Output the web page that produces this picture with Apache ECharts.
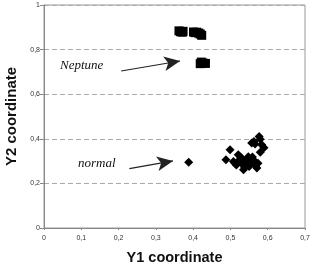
<!DOCTYPE html>
<html>
<head>
<meta charset="utf-8">
<script src="https://cdn.jsdelivr.net/npm/echarts@6/dist/echarts.min.js"></script>
<style>
  html, body { margin: 0; padding: 0; background: #fff; }
  #chart { width: 311px; height: 267px; }
</style>
</head>
<body>
<div id="chart"></div>
<script>
// Neptune group (squares)
const neptune = [
  [0.362, 0.884], [0.366, 0.880], [0.371, 0.878], [0.373, 0.882],
  [0.401, 0.879], [0.405, 0.876], [0.410, 0.878], [0.415, 0.874],
  [0.419, 0.870], [0.423, 0.864],
  [0.419, 0.737], [0.422, 0.744], [0.426, 0.740], [0.433, 0.738]
];

// normal group (diamonds)
const normal = [
  [0.388, 0.295],
  [0.488, 0.306], [0.499, 0.351], [0.508, 0.298], [0.512, 0.290],
  [0.516, 0.283], [0.521, 0.328], [0.524, 0.305], [0.527, 0.318],
  [0.530, 0.313], [0.532, 0.295], [0.534, 0.283], [0.535, 0.261],
  [0.538, 0.272], [0.540, 0.300], [0.544, 0.306], [0.546, 0.290],
  [0.548, 0.320], [0.550, 0.276], [0.553, 0.283], [0.556, 0.300],
  [0.559, 0.318], [0.562, 0.290], [0.566, 0.298], [0.568, 0.280],
  [0.571, 0.269], [0.574, 0.290],
  [0.557, 0.381], [0.563, 0.388], [0.566, 0.377], [0.577, 0.410],
  [0.580, 0.398], [0.584, 0.373], [0.580, 0.340], [0.590, 0.360]
];

// annotation arrows, in data coordinates
const neptuneArrow = [[0.207, 0.704], [0.365, 0.749]];
const normalArrow = [[0.229, 0.266], [0.346, 0.301]];

const chart = echarts.init(document.getElementById('chart'));

const fmt = v => String(Math.round(v * 10) / 10).replace('.', ',');

const arrowLine = (pts) => ({
  silent: true,
  symbol: ['none', 'arrow'],
  symbolSize: [11, 16],
  lineStyle: { color: '#222', width: 1.2, type: 'solid' },
  label: { show: false },
  data: [[{ coord: pts[0] }, { coord: pts[1] }]]
});

const option = {
  animation: false,
  grid: {
    left: 44, right: 6, top: 5, bottom: 39,
    outerBoundsMode: 'none',
    show: true, borderColor: '#999', borderWidth: 1
  },
  xAxis: {
    type: 'value',
    min: 0, max: 0.7, interval: 0.1,
    name: 'Y1 coordinate',
    nameLocation: 'middle',
    nameGap: 22,
    nameTextStyle: { fontFamily: 'Liberation Sans', fontWeight: 'bold', fontSize: 14.5, color: '#111' },
    axisLine: { lineStyle: { color: '#888' } },
    axisTick: { show: true, length: 2, lineStyle: { color: '#888' } },
    axisLabel: { fontFamily: 'Liberation Sans', fontSize: 7, color: '#333', margin: 7, formatter: fmt },
    splitLine: { show: false }
  },
  yAxis: {
    type: 'value',
    min: 0, max: 1, interval: 0.2,
    name: 'Y2 coordinate',
    nameLocation: 'middle',
    nameRotate: 90,
    nameGap: 20,
    nameTextStyle: { fontFamily: 'Liberation Sans', fontWeight: 'bold', fontSize: 15, color: '#111' },
    axisLine: { show: true, lineStyle: { color: '#888' } },
    axisTick: { show: true, length: 4, lineStyle: { color: '#888' } },
    axisLabel: { fontFamily: 'Liberation Sans', fontSize: 7, color: '#333', margin: 4, formatter: fmt },
    splitLine: { show: true, lineStyle: { color: '#aaa', type: [5, 3], width: 1 } }
  },
  series: [
    {
      name: 'Neptune',
      type: 'scatter',
      symbol: 'rect',
      symbolSize: 9,
      itemStyle: { color: '#000', opacity: 1 },
      data: neptune,
      markLine: arrowLine(neptuneArrow)
    },
    {
      name: 'normal',
      type: 'scatter',
      symbol: 'diamond',
      symbolSize: 9,
      itemStyle: { color: '#000', opacity: 1 },
      data: normal,
      markLine: arrowLine(normalArrow)
    }
  ],
  graphic: [
    { type: 'text', left: 60, top: 59, style: { text: 'Neptune', font: 'italic 13px "Liberation Serif"', fill: '#111' } },
    { type: 'text', left: 78, top: 157, style: { text: 'normal', font: 'italic 13px "Liberation Serif"', fill: '#111' } }
  ]
};

chart.setOption(option);
</script>
</body>
</html>
